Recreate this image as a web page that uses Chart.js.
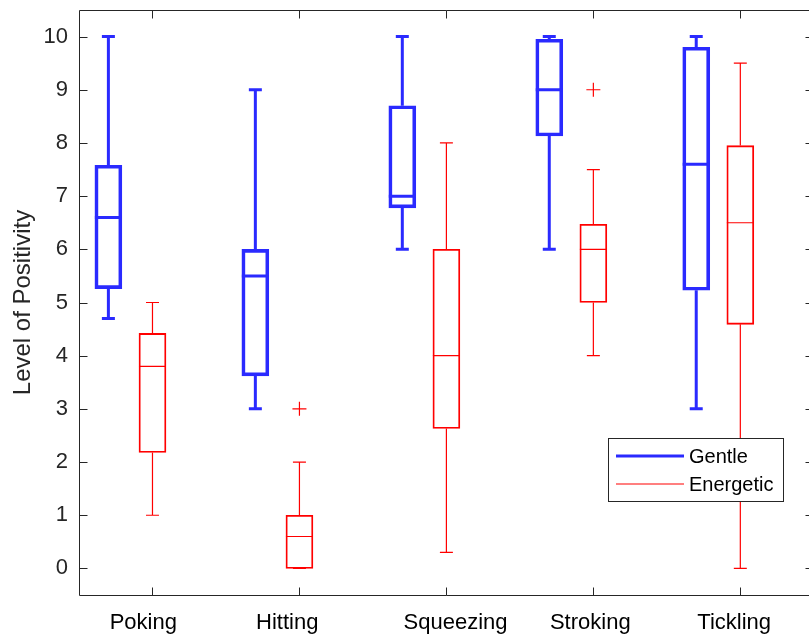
<!DOCTYPE html>
<html>
<head>
<meta charset="utf-8">
<script src="https://cdn.jsdelivr.net/npm/chart.js@4.4.1/dist/chart.umd.min.js"></script>
<style>
  html, body { margin: 0; padding: 0; background: #fff; overflow: hidden; }
  #chart-wrap { width: 822px; height: 637px; }
</style>
</head>
<body>
<div id="chart-wrap"><canvas id="positivity-chart" width="822" height="637"></canvas></div>
<script>
// Touch types along the x axis
const categories = ['Poking', 'Hitting', 'Squeezing', 'Stroking', 'Tickling'];
// Tick labels as typed for the axis (padded with spaces)
const tickLabels = ['Poking   ', 'Hitting    ', '   Squeezing', 'Stroking ', 'Tickling  '];

// Box statistics for the gentle condition
const gentleMin = [4.7, 3, 6, 6, 3];
const gentleQ1 = [5.26, 3.62, 6.78, 8.13, 5.23];
const gentleMedian = [6.6, 5.5, 7.0, 9.0, 7.6];
const gentleQ3 = [7.58, 6.0, 8.7, 9.95, 9.8];
const gentleMax = [10, 9, 10, 10, 10];

// Box statistics for the energetic condition
const energeticMin = [1, 0, 0.3, 4, 0];
const energeticQ1 = [2.18, 0, 2.63, 5, 4.59];
const energeticMedian = [3.8, 0.6, 4.0, 6.0, 6.5];
const energeticQ3 = [4.42, 1, 6, 6.47, 7.95];
const energeticMax = [5, 2, 8, 7.5, 9.5];

// Outliers (energetic only)
const outlierCategory = ['Hitting', 'Stroking'];
const outlierValue = [3, 9];

const yTicks = [0, 1, 2, 3, 4, 5, 6, 7, 8, 9, 10];

const AXIS_COLOR = '#262626';
const BLUE = '#2a2aff';
const RED = '#ff0000';
const FONT = "'Liberation Sans', Arial, sans-serif";

const groups = [
    { label: 'Gentle', color: BLUE, width: 3, offset: -0.3,
      min: gentleMin, q1: gentleQ1, med: gentleMedian, q3: gentleQ3, max: gentleMax },
    { label: 'Energetic', color: RED, width: 1.2, offset: 0,
      min: energeticMin, q1: energeticQ1, med: energeticMedian, q3: energeticQ3, max: energeticMax }
];

const BOX_W = 27;
const CAP_W = 13;

function boxDataset(g) {
    return {
        type: 'bar',
        label: g.label,
        data: categories.map(function(c, i) {
            return { x: i + 1 + g.offset, y: [g.q1[i], g.q3[i]] };
        }),
        backgroundColor: 'rgba(0,0,0,0)',
        borderColor: g.color,
        borderWidth: g.width,
        borderSkipped: false,
        barThickness: BOX_W,
        grouped: false
    };
}

// Whiskers, caps and medians on top of the boxes
const whiskerPlugin = {
    id: 'whiskers',
    afterDatasetsDraw: function(chart) {
        const ctx = chart.ctx;
        const xs = chart.scales.x;
        const ys = chart.scales.y;
        ctx.save();
        groups.forEach(function(g) {
            ctx.strokeStyle = g.color;
            ctx.lineWidth = g.width;
            categories.forEach(function(c, i) {
                const cx = xs.getPixelForValue(i + 1 + g.offset);
                const yMin = ys.getPixelForValue(g.min[i]);
                const yQ1 = ys.getPixelForValue(g.q1[i]);
                const yMed = ys.getPixelForValue(g.med[i]);
                const yQ3 = ys.getPixelForValue(g.q3[i]);
                const yMax = ys.getPixelForValue(g.max[i]);
                ctx.beginPath();
                // upper whisker + cap
                ctx.moveTo(cx, yQ3); ctx.lineTo(cx, yMax);
                ctx.moveTo(cx - CAP_W / 2, yMax); ctx.lineTo(cx + CAP_W / 2, yMax);
                // lower whisker + cap
                ctx.moveTo(cx, yQ1); ctx.lineTo(cx, yMin);
                ctx.moveTo(cx - CAP_W / 2, yMin); ctx.lineTo(cx + CAP_W / 2, yMin);
                // median
                ctx.moveTo(cx - BOX_W / 2, yMed); ctx.lineTo(cx + BOX_W / 2, yMed);
                ctx.stroke();
            });
        });
        ctx.restore();
    },
    afterDraw: function(chart) {
        const ctx = chart.ctx;
        const area = chart.chartArea;
        const xs = chart.scales.x;
        const ys = chart.scales.y;
        const L = Math.round(area.left) + 0.5;
        const R = Math.round(area.right) - 0.5;
        const T = Math.round(area.top) + 0.5;
        const B = Math.round(area.bottom) + 0.5;
        ctx.save();
        ctx.strokeStyle = AXIS_COLOR;
        ctx.lineWidth = 1;
        ctx.beginPath();
        ctx.rect(L, T, R - L, B - T);
        // inward ticks on all four sides
        categories.forEach(function(c, i) {
            const px = Math.round(xs.getPixelForValue(i + 1)) + 0.5;
            ctx.moveTo(px, B); ctx.lineTo(px, B - 8);
            ctx.moveTo(px, T); ctx.lineTo(px, T + 8);
        });
        yTicks.forEach(function(v) {
            const py = Math.round(ys.getPixelForValue(v)) + 0.5;
            ctx.moveTo(L, py); ctx.lineTo(L + 8, py);
            ctx.moveTo(R, py); ctx.lineTo(R - 8, py);
        });
        ctx.stroke();

        // legend box
        const lx = 608.5, ly = 438.5, lw = 175, lh = 63;
        ctx.fillStyle = '#ffffff';
        ctx.fillRect(lx, ly, lw, lh);
        ctx.strokeStyle = AXIS_COLOR;
        ctx.lineWidth = 1;
        ctx.strokeRect(lx, ly, lw, lh);
        ctx.font = '20px ' + FONT;
        ctx.textBaseline = 'middle';
        ctx.textAlign = 'left';
        groups.forEach(function(g, k) {
            const y = 456 + k * 28;
            ctx.strokeStyle = g.color;
            ctx.lineWidth = g.width;
            ctx.beginPath();
            ctx.moveTo(616, y); ctx.lineTo(684, y);
            ctx.stroke();
            ctx.fillStyle = '#000000';
            ctx.fillText(g.label, 689, y + 1);
        });
        ctx.restore();
    }
};

function noPadding(axis) {
    axis.paddingTop = 0;
    axis.paddingBottom = 0;
    axis.paddingLeft = 0;
    axis.paddingRight = 0;
}

Chart.defaults.font.family = FONT;
Chart.defaults.font.size = 22;
Chart.defaults.color = AXIS_COLOR;

new Chart(document.getElementById('positivity-chart'), {
    type: 'bar',
    data: {
        datasets: [
            boxDataset(groups[0]),
            boxDataset(groups[1]),
            {
                type: 'scatter',
                label: 'Outliers',
                data: outlierCategory.map(function(c, k) {
                    return { x: categories.indexOf(c) + 1 + groups[1].offset, y: outlierValue[k] };
                }),
                pointStyle: 'cross',
                pointRadius: 7,
                borderColor: RED,
                borderWidth: 1.2,
                backgroundColor: RED
            }
        ]
    },
    options: {
        responsive: false,
        animation: false,
        layout: { padding: { top: 10, right: 1, left: 0, bottom: 0 } },
        plugins: {
            legend: { display: false },
            tooltip: { enabled: false }
        },
        scales: {
            x: {
                type: 'linear',
                min: 0.5,
                max: 5.5,
                offset: false,
                grid: { display: false, drawTicks: false },
                border: { display: false },
                afterBuildTicks: function(axis) {
                    axis.ticks = categories.map(function(c, i) { return { value: i + 1 }; });
                },
                ticks: {
                    color: '#000000',
                    padding: 15,
                    autoSkip: false,
                    maxRotation: 0,
                    callback: function(v) { return tickLabels[v - 1]; }
                },
                afterFit: function(axis) {
                    axis.height = 42;
                    noPadding(axis);
                }
            },
            y: {
                min: -0.5,
                max: 10.5,
                grid: { display: false, drawTicks: false },
                border: { display: false },
                afterBuildTicks: function(axis) {
                    axis.ticks = yTicks.map(function(v) { return { value: v }; });
                },
                ticks: { padding: 11 },
                title: {
                    display: true,
                    text: 'Level of Positivity',
                    color: AXIS_COLOR,
                    font: { size: 24 },
                    padding: { top: 9, bottom: 0 }
                },
                afterFit: function(axis) {
                    axis.width = 79;
                    noPadding(axis);
                }
            }
        }
    },
    plugins: [whiskerPlugin]
});
</script>
</body>
</html>
